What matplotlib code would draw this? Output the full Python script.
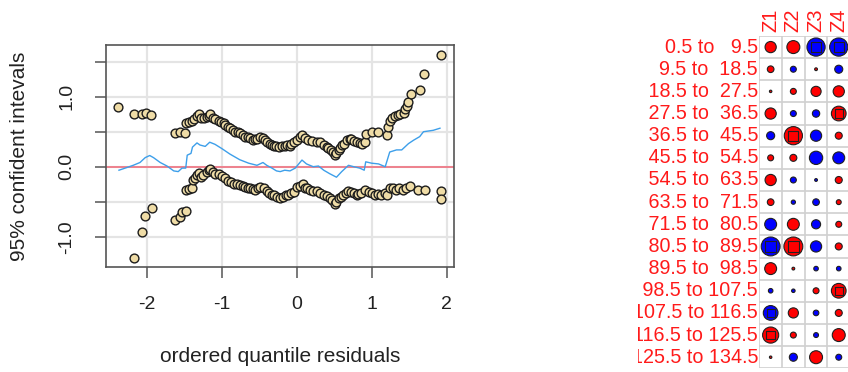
import numpy as np
import matplotlib
matplotlib.use("Agg")
import matplotlib.pyplot as plt

plt.rcParams['font.family'] = ['Liberation Sans', 'DejaVu Sans']

# left panel: ordered quantile residuals with upper / lower 95% bounds
upper_x = [-2.38, -2.17, -2.06, -2.01, -1.94, -1.62, -1.56, -1.49, -1.47, -1.43,
           -1.40, -1.37, -1.33, -1.30, -1.27, -1.24, -1.20, -1.17, -1.15, -1.11,
           -1.09, -1.04, -1.01, -0.97, -0.95, -0.91, -0.89, -0.85, -0.82, -0.78,
           -0.76, -0.72, -0.69, -0.65, -0.62, -0.58, -0.55, -0.53, -0.49, -0.45,
           -0.42, -0.40, -0.36, -0.33, -0.30, -0.27, -0.24, -0.20, -0.16, -0.13,
           -0.09, -0.07, -0.03, 0.00, 0.04, 0.07, 0.11, 0.15, 0.20, 0.27,
           0.31, 0.36, 0.40, 0.42, 0.46, 0.49, 0.51, 0.53, 0.56, 0.58,
           0.60, 0.63, 0.67, 0.71, 0.73, 0.77, 0.80, 0.84, 0.87, 0.91,
           0.93, 1.00, 1.09, 1.20, 1.22, 1.24, 1.27, 1.31, 1.35, 1.38,
           1.43, 1.45, 1.47, 1.49, 1.52, 1.65, 1.70, 1.92]
upper_y = [0.86, 0.76, 0.75, 0.77, 0.74, 0.48, 0.49, 0.48, 0.62, 0.64,
           0.66, 0.68, 0.72, 0.75, 0.70, 0.69, 0.71, 0.73, 0.75, 0.70,
           0.68, 0.66, 0.64, 0.62, 0.60, 0.57, 0.55, 0.52, 0.50, 0.49,
           0.48, 0.45, 0.43, 0.42, 0.41, 0.38, 0.40, 0.39, 0.42, 0.41,
           0.38, 0.36, 0.33, 0.31, 0.30, 0.29, 0.28, 0.30, 0.29, 0.31,
           0.30, 0.33, 0.35, 0.38, 0.42, 0.45, 0.41, 0.38, 0.37, 0.36,
           0.35, 0.31, 0.28, 0.27, 0.24, 0.21, 0.17, 0.19, 0.24, 0.27,
           0.31, 0.33, 0.38, 0.39, 0.40, 0.37, 0.36, 0.34, 0.33, 0.36,
           0.47, 0.49, 0.50, 0.45, 0.57, 0.66, 0.69, 0.72, 0.74, 0.76,
           0.77, 0.83, 0.87, 0.92, 1.04, 1.09, 1.32, 1.59]

lower_x = [-2.17, -2.06, -2.02, -1.93, -1.62, -1.56, -1.53, -1.47, -1.48, -1.43,
           -1.40, -1.38, -1.35, -1.33, -1.30, -1.27, -1.25, -1.20, -1.17, -1.15,
           -1.12, -1.09, -1.04, -1.00, -0.95, -0.91, -0.87, -0.84, -0.80, -0.76,
           -0.72, -0.69, -0.65, -0.62, -0.58, -0.55, -0.51, -0.49, -0.44, -0.40,
           -0.37, -0.33, -0.30, -0.26, -0.22, -0.18, -0.14, -0.11, -0.07, -0.04,
           0.01, 0.05, 0.08, 0.11, 0.14, 0.18, 0.22, 0.27, 0.31, 0.36,
           0.40, 0.44, 0.47, 0.51, 0.53, 0.56, 0.59, 0.62, 0.66, 0.69,
           0.72, 0.76, 0.80, 0.82, 0.86, 0.91, 0.96, 1.00, 1.04, 1.09,
           1.13, 1.18, 1.21, 1.24, 1.28, 1.33, 1.37, 1.42, 1.46, 1.51,
           1.62, 1.71, 1.92, 1.92]
lower_y = [-1.30, -0.93, -0.70, -0.59, -0.76, -0.72, -0.65, -0.63, -0.33, -0.32,
           -0.31, -0.19, -0.16, -0.12, -0.09, -0.14, -0.12, -0.08, -0.05, -0.03,
           -0.07, -0.10, -0.11, -0.13, -0.16, -0.20, -0.22, -0.24, -0.25, -0.26,
           -0.28, -0.29, -0.31, -0.31, -0.32, -0.33, -0.31, -0.29, -0.30, -0.35,
           -0.38, -0.40, -0.41, -0.43, -0.44, -0.43, -0.41, -0.40, -0.38, -0.36,
           -0.29, -0.27, -0.25, -0.31, -0.30, -0.33, -0.34, -0.35, -0.37, -0.40,
           -0.42, -0.45, -0.48, -0.53, -0.50, -0.45, -0.43, -0.40, -0.37, -0.35,
           -0.36, -0.38, -0.40, -0.39, -0.37, -0.33, -0.36, -0.38, -0.40, -0.39,
           -0.40, -0.38, -0.40, -0.31, -0.30, -0.33, -0.31, -0.33, -0.31, -0.28,
           -0.33, -0.33, -0.34, -0.46]

# blue running line
worm_x = [-2.37, -2.26, -2.18, -2.09, -2.02, -1.96, -1.91, -1.82, -1.73, -1.64,
          -1.58, -1.53, -1.48, -1.46, -1.41, -1.39, -1.33, -1.29, -1.22, -1.16,
          -1.09, -1.00, -0.89, -0.76, -0.64, -0.53, -0.45, -0.40, -0.33, -0.27,
          -0.22, -0.16, -0.09, -0.02, 0.07, 0.13, 0.22, 0.29, 0.36, 0.44,
          0.53, 0.60, 0.69, 0.76, 0.84, 0.90, 0.92, 1.00, 1.09, 1.18,
          1.24, 1.33, 1.40, 1.44, 1.49, 1.56, 1.64, 1.69, 1.82, 1.91]
worm_y = [-0.05, -0.01, 0.02, 0.06, 0.13, 0.16, 0.13, 0.06, 0.01, -0.06,
          -0.07, -0.02, -0.02, 0.165, 0.19, 0.28, 0.34, 0.31, 0.29, 0.35,
          0.32, 0.26, 0.18, 0.10, 0.05, 0.02, 0.06, 0.02, -0.02, -0.06,
          -0.07, -0.05, -0.06, -0.02, 0.095, 0.04, 0.00, 0.01, -0.05, -0.10,
          -0.15, -0.07, 0.02, 0.00, -0.02, -0.05, 0.07, 0.05, 0.04, 0.00,
          0.21, 0.24, 0.24, 0.28, 0.33, 0.38, 0.43, 0.50, 0.52, 0.55]

# right panel: Z statistics per interval
lower_break = [0.5, 9.5, 18.5, 27.5, 36.5, 45.5, 54.5, 63.5, 71.5, 80.5,
               89.5, 98.5, 107.5, 116.5, 125.5]
upper_break = [9.5, 18.5, 27.5, 36.5, 45.5, 54.5, 63.5, 71.5, 80.5, 89.5,
               98.5, 107.5, 116.5, 125.5, 134.5]
z_names = ["Z1", "Z2", "Z3", "Z4"]
z1 = [1.6, 0.95, 0.35, 1.6, -1.15, 0.85, 1.6, 0.95, -1.7, -2.7, 1.7, -0.65, -2.1, 2.3, 0.35]
z2 = [1.85, -0.85, 0.85, -0.85, 2.6, 1.0, -0.85, -0.6, 1.7, 2.7, 0.4, -0.5, 1.45, 0.85, -1.15]
z3 = [-2.6, 0.4, 1.45, -1.05, -1.6, -1.9, -0.4, -0.95, -1.3, -1.6, -0.65, 0.85, -0.8, -0.7, 1.85]
z4 = [-2.6, -1.15, 1.6, 2.1, 1.0, -1.7, 1.0, 0.7, 0.85, 1.0, -0.65, 2.1, 1.0, 1.85, -0.85]

W, H = 848, 372
fig = plt.figure(figsize=(W/100, H/100), dpi=100)

ax = fig.add_axes([106/W, 1-267/H, 348/W, 222/H])
ax.set_xlim(-2.543, 2.097)
ax.set_ylim(-1.433, 1.739)
ax.grid(color='#e4e4e4', lw=1.6)
ax.set_axisbelow(True)
ax.axhline(0, color='#f0707f', lw=1.2, zorder=1)
ax.plot(worm_x, worm_y, color='#3d9fea', lw=1.0, zorder=2)
ax.scatter(upper_x, upper_y, s=40, c='#efdca6', edgecolors='#1c1c1c', linewidths=1.0, zorder=3)
ax.scatter(lower_x, lower_y, s=40, c='#efdca6', edgecolors='#1c1c1c', linewidths=1.0, zorder=3)

ax.set_xticks([-2, -1, 0, 1, 2])
ax.set_xticklabels(['-2', '-1', '0', '1', '2'])
ax.set_yticks([-1, -0.5, 0, 0.5, 1, 1.5])
ax.set_yticklabels(['-1.0', '', '0.0', '', '1.0', ''], rotation=90, va='center')
ax.tick_params(length=8, width=1.1, color='#555555', labelsize=14, labelcolor='#222222')
ax.tick_params(axis='x', pad=13)
ax.tick_params(axis='y', pad=14)
for sp in ax.spines.values():
    sp.set_color('#555555')
    sp.set_linewidth(1.2)

fig.text(20/W, 1-156/H, '95% confident intevals', rotation=90, ha='center', va='center',
         fontsize=15, color='#222222')
fig.text(280/W, 1-356/H, 'ordered quantile residuals', ha='center', va='center',
         fontsize=15, color='#222222')

# table of circles
zs = [z1, z2, z3, z4]
nrow = len(lower_break)
ax2 = fig.add_axes([759.3/W, 1-368.3/H, 90.8/W, 332.3/H])
ax2.set_xlim(0, 4)
ax2.set_ylim(nrow, 0)
ax2.axis('off')
for i in range(nrow + 1):
    ax2.axhline(i, color='#d0d0d0', lw=1.2, zorder=1)
for j in range(5):
    ax2.axvline(j, color='#d0d0d0', lw=1.2, zorder=1)

px_per_unit = 7.0
for j, zc in enumerate(zs):
    zc = np.array(zc)
    rows = np.arange(nrow) + 0.5
    cols = np.full(nrow, j + 0.5)
    d_pt = np.abs(zc) * px_per_unit * 0.72
    colors = np.where(zc > 0, '#ff0000', '#0000ff')
    ax2.scatter(cols, rows, s=d_pt**2, c=colors, edgecolors='#202020', linewidths=0.8, zorder=3)
    big = np.abs(zc) > 2
    ax2.scatter(cols[big], rows[big], s=(d_pt[big]*0.55)**2, marker='s', c=colors[big],
                edgecolors='#202020', linewidths=0.8, zorder=4)
    ax2.text(j + 0.5, -0.18, z_names[j], rotation=90, ha='center', va='bottom',
             color='#ff1a1a', fontsize=14.5, clip_on=False)

# row labels live in their own strip so the long ones get cut at the panel edge
ax3 = fig.add_axes([638/W, 1-368.3/H, 121.3/W, 332.3/H])
ax3.set_xlim(0, 1)
ax3.set_ylim(nrow, 0)
ax3.axis('off')
for i in range(nrow):
    lab = f"{lower_break[i]:>5} to {upper_break[i]:>5}"
    ax3.text(0.99, i + 0.5, lab, ha='right', va='center', color='#ff1a1a', fontsize=14.2,
             clip_on=True)

fig.savefig('out.png', dpi=100)
